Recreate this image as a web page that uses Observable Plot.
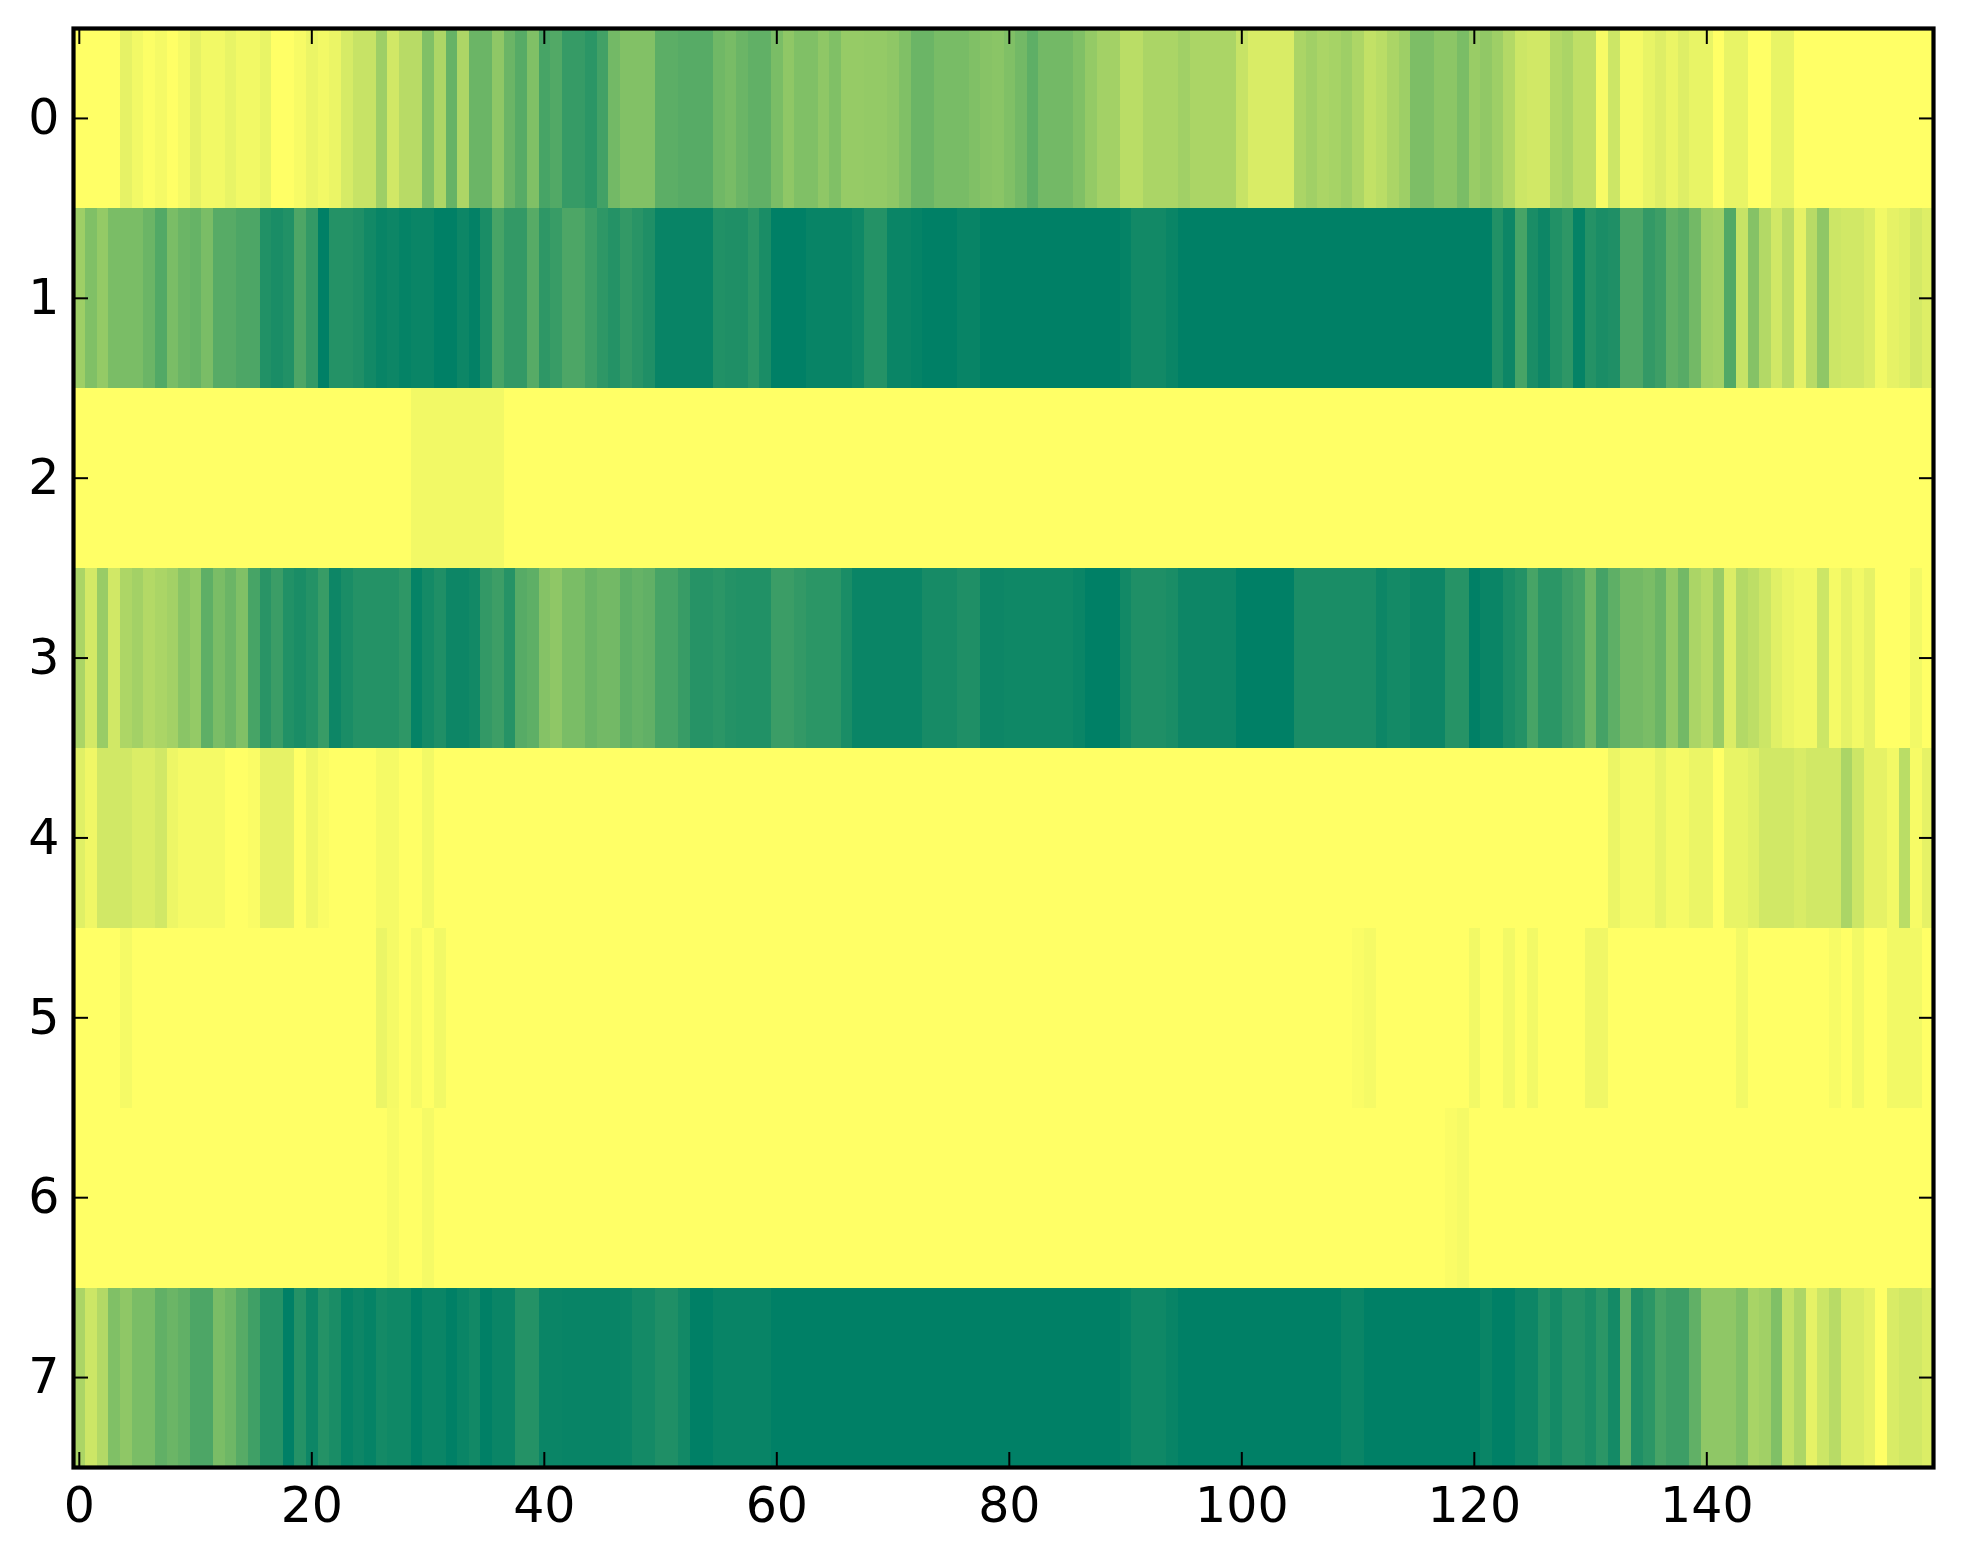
<!DOCTYPE html>
<html>
<head>
<meta charset="utf-8">
<script src="https://cdn.jsdelivr.net/npm/d3@7"></script>
<script src="https://cdn.jsdelivr.net/npm/@observablehq/plot@0.6"></script>
<style>
html,body{margin:0;padding:0;background:#fff}
svg{display:block}
image{image-rendering:pixelated}
</style>
</head>
<body>
<div id="chart"></div>
<script>
const row0 = [0,0,0,0,.1,.05,.01,.04,0,.04,
.1,.05,.05,.09,.05,.05,.09,0,0,.03,
.08,.05,.08,.16,.22,.22,.38,.18,.28,.28,
.5,.32,.6,.32,.58,.58,.44,.58,.66,.5,
.72,.68,.79,.79,.83,.74,.55,.49,.49,.49,
.64,.64,.66,.66,.66,.56,.53,.58,.62,.62,
.52,.44,.5,.5,.44,.5,.41,.41,.42,.42,
.44,.5,.58,.58,.53,.53,.53,.5,.47,.46,
.5,.55,.63,.55,.55,.55,.5,.42,.36,.36,
.27,.27,.33,.33,.33,.37,.33,.33,.33,.33,
.22,.15,.15,.15,.15,.33,.37,.33,.35,.38,
.32,.24,.27,.33,.38,.51,.51,.45,.45,.52,
.4,.43,.38,.3,.2,.18,.18,.3,.33,.25,
.25,.03,.2,.04,.04,.09,.13,.08,.13,.09,
.09,0,.09,.09,0,0,.09,.09,0,0,
0,0,0,0,0,0,0,0,0,0];
const row1 = [.38,.5,.42,.52,.52,.52,.58,.68,.52,.58,
.6,.52,.66,.66,.7,.7,.87,.9,.87,.7,
.8,1,.86,.86,.88,.93,.97,.95,.98,.96,
.96,1,1,.95,.99,.9,.72,.8,.8,.66,
.82,.78,.7,.7,.76,.82,.86,.8,.84,.88,
.97,.97,.97,.97,.97,.87,.88,.88,.83,.9,
1,1,1,.97,.97,.97,.97,.94,.86,.86,
.96,.96,.98,1,1,1,.97,.97,1,1,
1,1,1,1,1,1,1,1,1,1,
.98,.93,.93,.93,.96,1,1,1,1,1,
1,1,1,1,1,1,1,1,1,1,
1,1,1,1,1,1,1,1,1,1,
1,1,.87,.95,.72,.9,.95,.87,.82,.98,
.86,.9,.88,.7,.7,.8,.76,.62,.66,.55,
.38,.36,.68,.22,.48,.3,.18,.28,.1,.28,
.44,.2,.18,.18,.14,.05,.1,.12,.17,.13];
const row2 = [0,0,0,0,0,0,0,0,0,0,
0,0,0,0,0,0,0,0,0,0,
0,0,0,0,0,0,0,0,0,.05,
.05,.05,.05,.05,.05,.05,.05,0,0,0,
0,0,0,0,0,0,0,0,0,0,
0,0,0,0,0,0,0,0,0,0,
0,0,0,0,0,0,0,0,0,0,
0,0,0,0,0,0,0,0,0,0,
0,0,0,0,0,0,0,0,0,0,
0,0,0,0,0,0,0,0,0,0,
0,0,0,0,0,0,0,0,0,0,
0,0,0,0,0,0,0,0,0,0,
0,0,0,0,0,0,0,0,0,0,
0,0,0,0,0,0,0,0,0,0,
0,0,0,0,0,0,0,0,0,0,
0,0,0,0,0,0,0,0,0,0];
const row3 = [.33,.17,.4,.18,.32,.36,.3,.33,.36,.46,
.42,.63,.52,.58,.5,.72,.84,.77,.87,.9,
.86,.78,.95,.9,.86,.86,.86,.86,.82,.98,
.92,.88,.95,.95,.93,.8,.76,.85,.66,.63,
.48,.44,.52,.52,.58,.55,.55,.63,.6,.62,
.72,.72,.78,.85,.85,.83,.86,.87,.87,.87,
.77,.77,.8,.83,.83,.83,.9,.96,.96,.96,
.96,.96,.96,.91,.91,.91,.88,.88,.95,.95,
.94,.94,.94,.94,.94,.94,.96,1,1,1,
.93,.88,.88,.88,.9,.95,.95,.95,.95,.95,
1,1,1,1,1,.9,.9,.9,.9,.9,
.9,.9,.95,.92,.92,.95,.95,.95,.85,.85,
1,.96,.96,.9,.86,.72,.83,.83,.76,.72,
.57,.73,.63,.55,.55,.52,.58,.42,.55,.33,
.28,.4,.14,.3,.26,.2,.12,.08,.05,.05,
.2,.04,.1,.05,.1,0,0,0,.05,0];
const row4 = [.12,.06,.18,.18,.18,.14,.14,.18,.07,.04,
.04,.04,.04,0,0,.02,.1,.1,.1,0,
.06,.02,0,0,0,0,.04,.04,0,0,
.05,0,0,0,0,0,0,0,0,0,
0,0,0,0,0,0,0,0,0,0,
0,0,0,0,0,0,0,0,0,0,
0,0,0,0,0,0,0,0,0,0,
0,0,0,0,0,0,0,0,0,0,
0,0,0,0,0,0,0,0,0,0,
0,0,0,0,0,0,0,0,0,0,
0,0,0,0,0,0,0,0,0,0,
0,0,0,0,0,0,0,0,0,0,
0,0,0,0,0,0,0,0,0,0,
0,0,.08,.04,.04,.04,.09,.04,.04,.08,
.08,0,.09,.09,.12,.18,.18,.18,.15,.18,
.18,.18,.33,.2,.1,.1,.05,.27,.03,.1];
const row5 = [0,0,0,0,.04,0,0,0,0,0,
0,0,0,0,0,0,0,0,0,0,
0,0,0,0,0,0,.08,.04,0,.04,
0,.05,0,0,0,0,0,0,0,0,
0,0,0,0,0,0,0,0,0,0,
0,0,0,0,0,0,0,0,0,0,
0,0,0,0,0,0,0,0,0,0,
0,0,0,0,0,0,0,0,0,0,
0,0,0,0,0,0,0,0,0,0,
0,0,0,0,0,0,0,0,0,0,
0,0,0,0,0,0,0,0,0,0,
.02,.04,0,0,0,0,0,0,0,0,
.05,0,0,.05,0,.05,0,0,0,0,
.06,.06,0,0,0,0,0,0,0,0,
0,0,0,.05,0,0,0,0,0,0,
0,.03,0,.05,0,0,.05,.05,.05,0];
const row6 = [0,0,0,0,0,0,0,0,0,0,
0,0,0,0,0,0,0,0,0,0,
0,0,0,0,0,0,0,.03,0,0,
.04,0,0,0,0,0,0,0,0,0,
0,0,0,0,0,0,0,0,0,0,
0,0,0,0,0,0,0,0,0,0,
0,0,0,0,0,0,0,0,0,0,
0,0,0,0,0,0,0,0,0,0,
0,0,0,0,0,0,0,0,0,0,
0,0,0,0,0,0,0,0,0,0,
0,0,0,0,0,0,0,0,0,0,
0,0,0,0,0,0,0,0,.02,.04,
0,0,0,0,0,0,0,0,0,0,
0,0,0,0,0,0,0,0,0,0,
0,0,0,0,0,0,0,0,0,0,
0,0,0,0,0,0,0,0,0,0];
const row7 = [.33,.2,.3,.5,.44,.52,.52,.62,.58,.62,
.7,.7,.52,.57,.66,.75,.85,.85,1,.86,
.95,.86,.9,.98,.95,.98,.92,.94,.94,1,
.96,.96,1,.96,.93,1,.96,.96,.86,.86,
.96,.96,.97,.97,.97,.97,.97,.96,.92,.92,
.88,.88,.93,1,1,.97,.97,.97,.97,.97,
1,1,1,1,1,1,1,1,1,1,
1,1,1,1,1,1,1,1,1,1,
1,1,1,1,1,1,1,1,1,1,
.98,.94,.94,.94,.97,1,1,1,1,1,
1,1,1,1,1,1,1,1,1,.96,
.96,1,1,1,1,1,1,1,1,1,
1,.96,1,1,.95,.95,.87,.92,.86,.86,
.9,.83,.92,.62,.88,.83,.72,.76,.76,.62,
.44,.44,.44,.5,.34,.37,.5,.23,.32,.1,
.2,.28,.14,.14,.1,0,.15,.18,.18,.14];
const rows = [row0,row1,row2,row3,row4,row5,row6,row7];
const xTicks = [0,20,40,60,80,100,120,140];
const yTicks = [0,1,2,3,4,5,6,7];
const colorLow = "#ffff66", colorHigh = "#008066";

const grid = rows.flat();
const tickStyle = {label:null, tickFormat:()=>"", stroke:"#000", strokeWidth:2};
const svg = Plot.plot({
  width:1963, height:1564,
  marginLeft:73, marginRight:30, marginTop:28, marginBottom:97,
  style:{background:"#fff", fontFamily:"'DejaVu Sans'", fontSize:"49px", color:"#000"},
  x:{domain:[-0.5,159.5], label:null},
  y:{domain:[7.5,-0.5], label:null},
  color:{type:"linear", domain:[0,1], range:[colorLow,colorHigh], interpolate:"rgb"},
  marks:[
    Plot.raster(grid,{width:160,height:8,x1:-0.5,x2:159.5,y1:-0.5,y2:7.5,fill:d=>d,imageRendering:"pixelated"}),
    Plot.axisX({anchor:"bottom",ticks:xTicks,tickSize:0,tickPadding:20,label:null,fontSize:49,tickFormat:d=>String(d)}),
    Plot.axisY({anchor:"left",ticks:yTicks,tickSize:0,tickPadding:14,label:null,fontSize:49,tickFormat:d=>String(d)}),
    Plot.axisX({anchor:"bottom",ticks:xTicks,tickSize:-15,text:null,...tickStyle}),
    Plot.axisX({anchor:"top",ticks:xTicks,tickSize:-15,text:null,...tickStyle}),
    Plot.axisY({anchor:"left",ticks:yTicks,tickSize:-15,text:null,...tickStyle}),
    Plot.axisY({anchor:"right",ticks:yTicks,tickSize:-15,text:null,...tickStyle}),
    Plot.frame({stroke:"#000",strokeWidth:4.2})
  ]
});
document.getElementById("chart").appendChild(svg);
</script>
</body>
</html>
